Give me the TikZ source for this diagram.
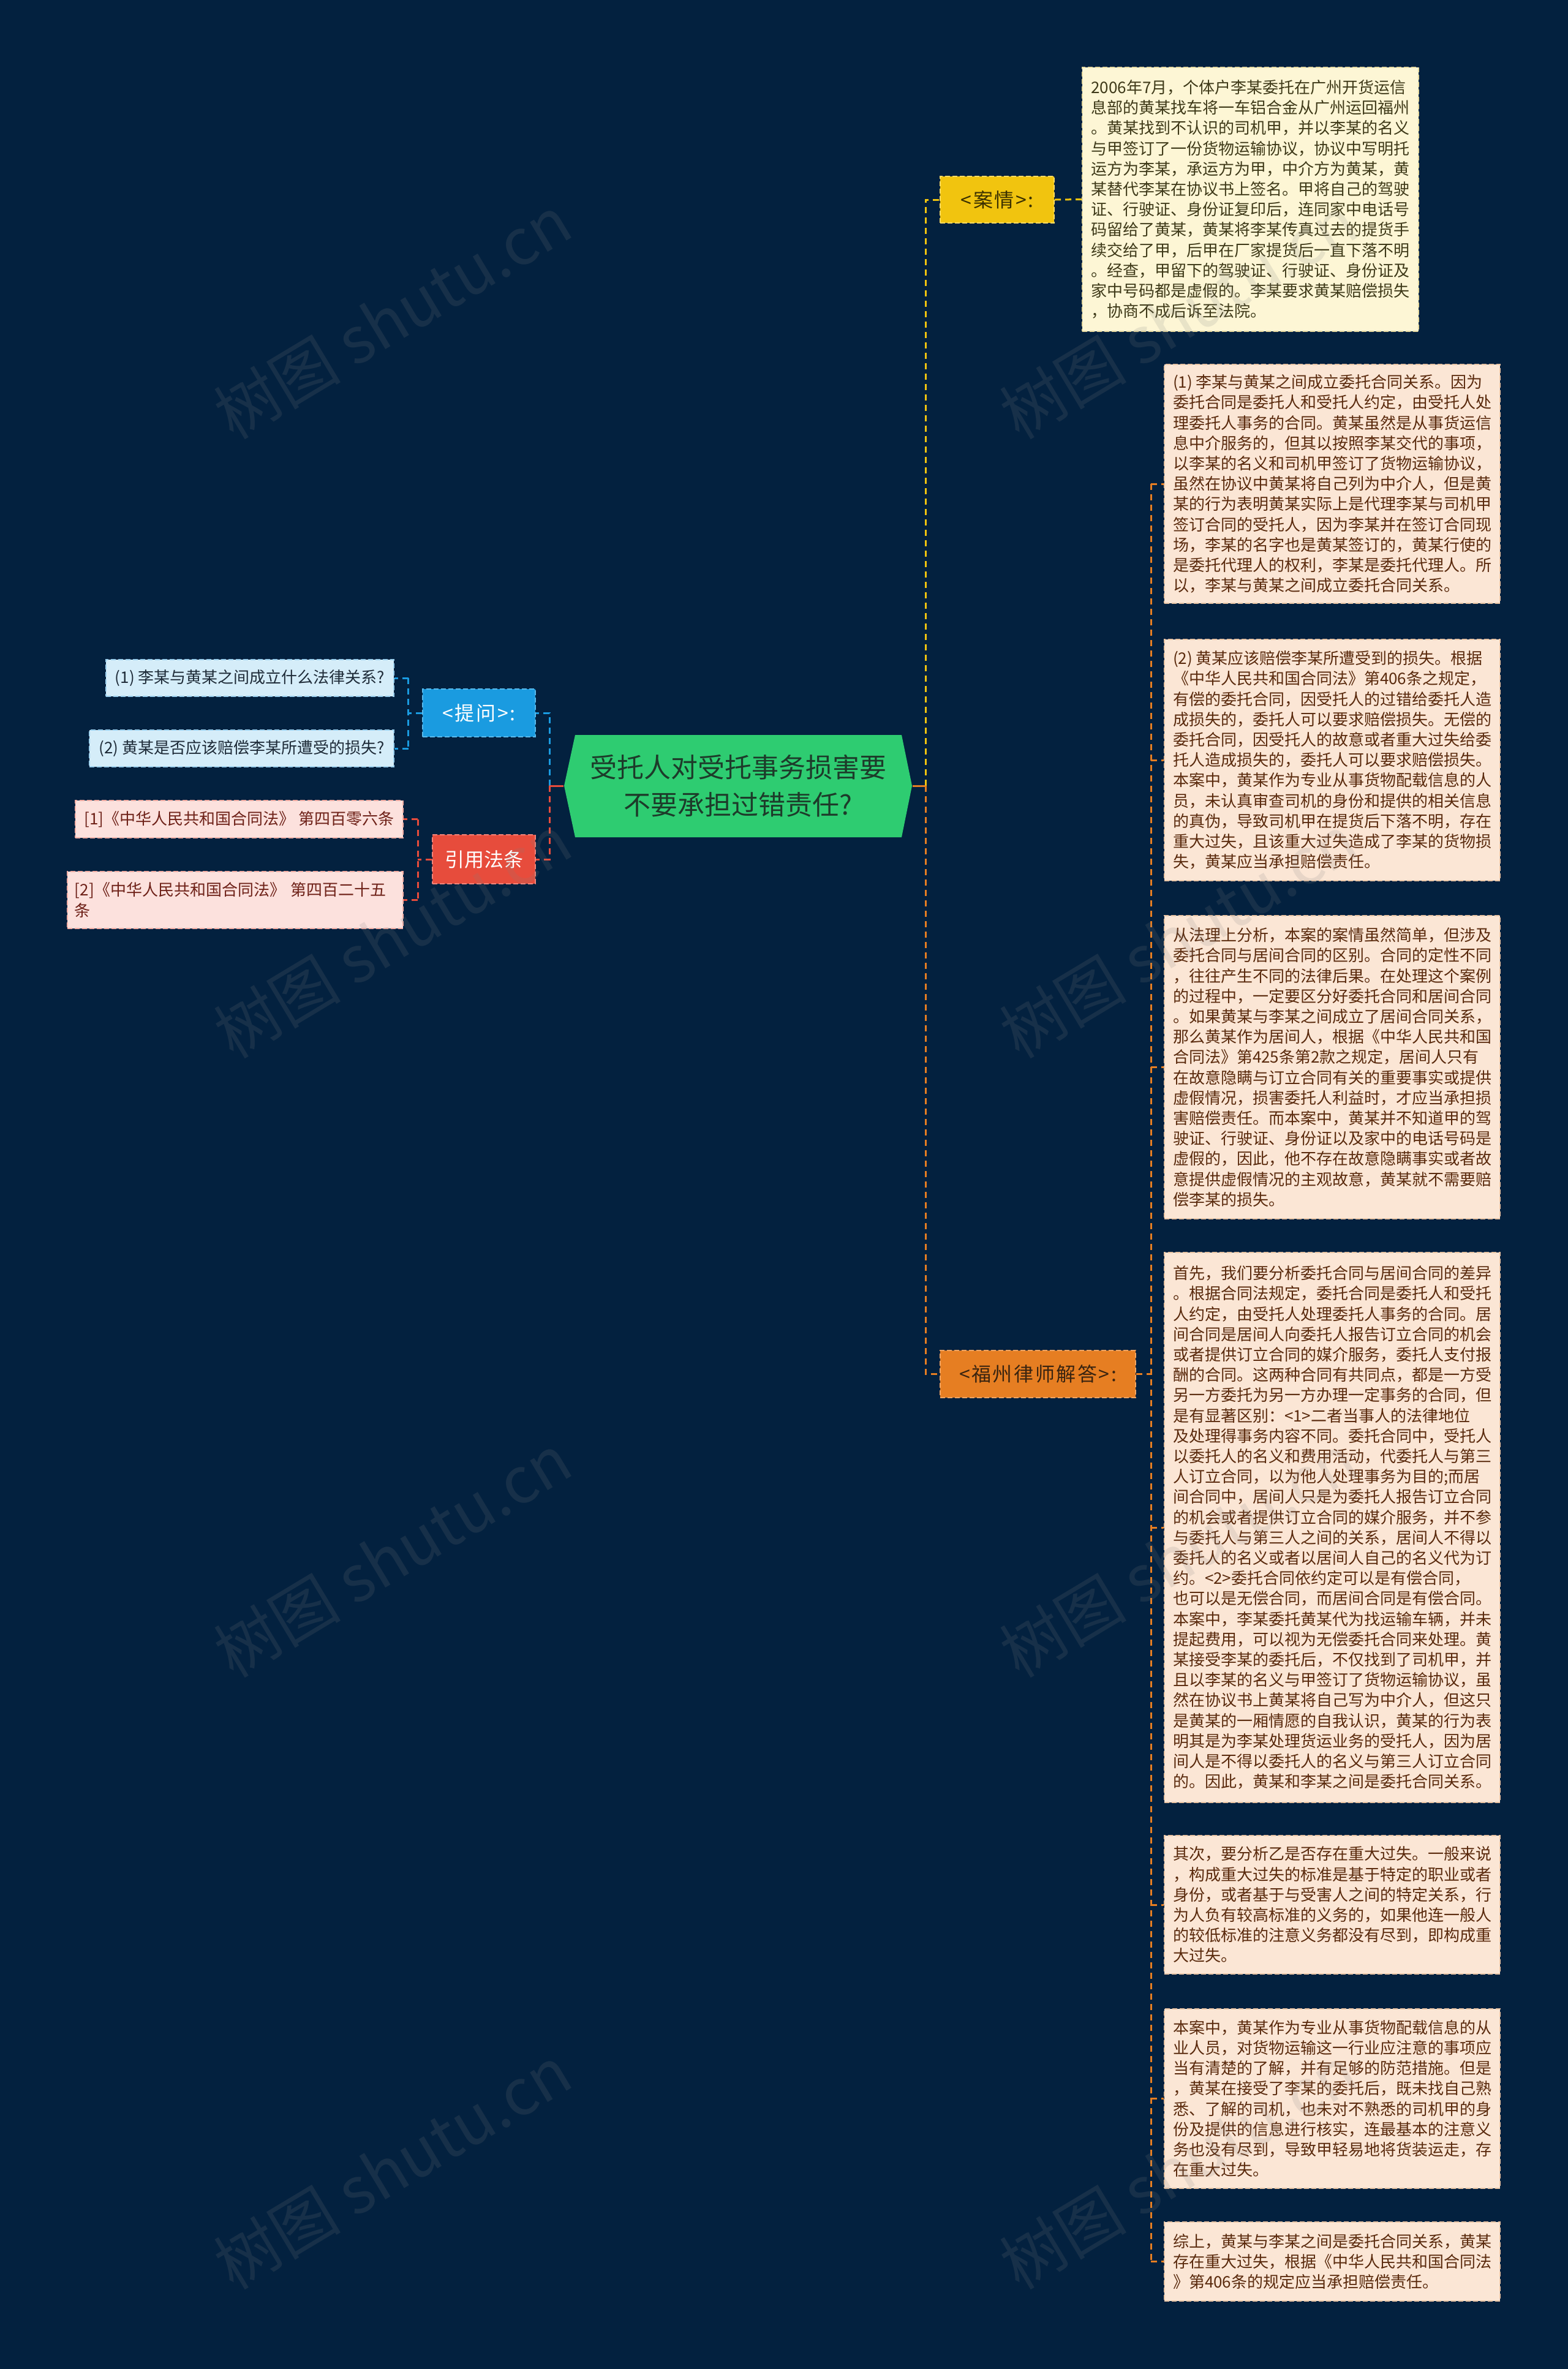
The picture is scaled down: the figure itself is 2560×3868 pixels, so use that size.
\documentclass[tikz,border=0pt]{standalone}
\usepackage{fontspec}
\setmainfont{Noto Sans CJK SC}
\usetikzlibrary{backgrounds}
\definecolor{bgc}{HTML}{03213F}
\definecolor{rootfill}{HTML}{2ECC71}
\definecolor{roottext}{HTML}{1D3B2A}
\definecolor{bluec}{HTML}{1A9BE0}
\definecolor{blueline}{HTML}{58B9EC}
\definecolor{redc}{HTML}{E74C3C}
\definecolor{redline}{HTML}{F1847A}
\definecolor{yelc}{HTML}{F1C40F}
\definecolor{yelline}{HTML}{F7DA62}
\definecolor{yeltext}{HTML}{3A3000}
\definecolor{orac}{HTML}{E67E22}
\definecolor{oraline}{HTML}{F0A461}
\definecolor{oratext}{HTML}{3A2410}
\definecolor{qfill}{HTML}{D5EDF9}
\definecolor{qline}{HTML}{9CD0EE}
\definecolor{qtext}{HTML}{1E2B38}
\definecolor{lawfill}{HTML}{FCE1DD}
\definecolor{lawline}{HTML}{F2ADA4}
\definecolor{lawtext}{HTML}{6E2118}
\definecolor{casefill}{HTML}{FDF6D5}
\definecolor{caseline}{HTML}{E6D9A0}
\definecolor{casetext}{HTML}{3E3918}
\definecolor{ansfill}{HTML}{FBE6D5}
\definecolor{ansline}{HTML}{E8C3A3}
\definecolor{anstext}{HTML}{5A2A0D}
\tikzset{
  conn/.style={line width=0.75pt, dash pattern=on 2.5pt off 1.75pt},
  solidconn/.style={line width=0.75pt},
  boxbase/.style={draw, line width=0.5pt, dash pattern=on 2pt off 1pt, inner sep=0pt},
  smallfont/.style={font=\fontsize{6.5pt}{8.3pt}\selectfont},
  midfont/.style={font=\fontsize{8pt}{10pt}\selectfont},
  spacedfont/.style={font=\fontsize{8pt}{10pt}\selectfont\addfontfeatures{LetterSpace=8}},
  qbox/.style={boxbase, smallfont, fill=qfill, draw=qline, text=qtext, minimum height=15pt},
  lawbox/.style={boxbase, smallfont, fill=lawfill, draw=lawline, text=lawtext},
  casebox/.style={boxbase, smallfont, fill=casefill, draw=caseline, text=casetext, align=left},
  ansbox/.style={boxbase, smallfont, fill=ansfill, draw=ansline, text=anstext, align=left, minimum width=137pt},
  lvone/.style={boxbase, midfont},
  lvspaced/.style={boxbase, spacedfont},
  wm/.style={font=\fontsize{26pt}{30pt}\selectfont, text=gray, opacity=0.16, rotate=31, inner sep=0pt},
}
\begin{document}
\begin{tikzpicture}[x=0.25pt, y=-0.25pt]
\useasboundingbox (0,0) rectangle (2560,3868);
\begin{scope}[on background layer]
  \fill[bgc] (0,0) rectangle (2560,3868);
\end{scope}

% central hexagon
\fill[rootfill] (939,1200) -- (1472,1200) -- (1489,1283) -- (1472,1367) -- (939,1367) -- (921,1283) -- cycle;
\node[inner sep=0pt, minimum width=142pt, minimum height=41.75pt, align=center, text=roottext,
      font=\fontsize{11pt}{15.25pt}\selectfont] (root) at (1205,1283)
  {受托人对受托事务损害要\\不要承担过错责任?};

% left branch
\node[lvspaced, fill=bluec, draw=blueline, text=white, minimum width=46pt, minimum height=19.5pt] (tiwen) at (782,1164) {<提问>:};
\node[lvone, fill=redc, draw=redline, text=white, minimum width=42pt, minimum height=20pt] (yinyong) at (790,1403) {引用法条};
\node[qbox, minimum width=117.5pt] (q1) at (408,1107) {(1) 李某与黄某之间成立什么法律关系?};
\node[qbox, minimum width=124.25pt] (q2) at (394.5,1222) {(2) 黄某是否应该赔偿李某所遭受的损失?};
\node[lawbox, minimum width=133.75pt, minimum height=15.25pt] (l1) at (390.5,1337.5) {[1]《中华人民共和国合同法》 第四百零六条};
\node[lawbox, text width=131pt, inner xsep=3pt, minimum height=23.25pt, align=left] (l2) at (384,1469.5) {[2]《中华人民共和国合同法》 第四百二十五\\条};

% right branch
\node[lvspaced, fill=yelc, draw=yelline, text=yeltext, minimum width=46.5pt, minimum height=19pt] (anqing) at (1628,326) {<案情>:};
\node[lvspaced, fill=orac, draw=oraline, text=oratext, minimum width=79.75pt, minimum height=19.25pt] (fuzhou) at (1694.5,2243.5) {<福州律师解答>:};

\node[casebox, minimum width=137.25pt, minimum height=107.75pt] (case) at (2041.5,325.5) {2006年7月，个体户李某委托在广州开货运信\\息部的黄某找车将一车铝合金从广州运回福州\\。黄某找到不认识的司机甲，并以李某的名义\\与甲签订了一份货物运输协议，协议中写明托\\运方为李某，承运方为甲，中介方为黄某，黄\\某替代李某在协议书上签名。甲将自己的驾驶\\证、行驶证、身份证复印后，连同家中电话号\\码留给了黄某，黄某将李某传真过去的提货手\\续交给了甲，后甲在厂家提货后一直下落不明\\。经查，甲留下的驾驶证、行驶证、身份证及\\家中号码都是虚假的。李某要求黄某赔偿损失\\，协商不成后诉至法院。};

\node[ansbox, minimum height=97.5pt] (b1) at (2175,790) {(1) 李某与黄某之间成立委托合同关系。因为\\委托合同是委托人和受托人约定，由受托人处\\理委托人事务的合同。黄某虽然是从事货运信\\息中介服务的，但其以按照李某交代的事项，\\以李某的名义和司机甲签订了货物运输协议，\\虽然在协议中黄某将自己列为中介人，但是黄\\某的行为表明黄某实际上是代理李某与司机甲\\签订合同的受托人，因为李某并在签订合同现\\场，李某的名字也是黄某签订的，黄某行使的\\是委托代理人的权利，李某是委托代理人。所\\以，李某与黄某之间成立委托合同关系。};

\node[ansbox, minimum height=98.5pt] (b2) at (2175,1241) {(2) 黄某应该赔偿李某所遭受到的损失。根据\\《中华人民共和国合同法》第406条之规定，\\有偿的委托合同，因受托人的过错给委托人造\\成损失的，委托人可以要求赔偿损失。无偿的\\委托合同，因受托人的故意或者重大过失给委\\托人造成损失的，委托人可以要求赔偿损失。\\本案中，黄某作为专业从事货物配载信息的人\\员，未认真审查司机的身份和提供的相关信息\\的真伪，导致司机甲在提货后下落不明，存在\\重大过失，且该重大过失造成了李某的货物损\\失，黄某应当承担赔偿责任。};

\node[ansbox, minimum height=123.75pt] (b3) at (2175,1742.5) {从法理上分析，本案的案情虽然简单，但涉及\\委托合同与居间合同的区别。合同的定性不同\\，往往产生不同的法律后果。在处理这个案例\\的过程中，一定要区分好委托合同和居间合同\\。如果黄某与李某之间成立了居间合同关系，\\那么黄某作为居间人，根据《中华人民共和国\\合同法》第425条第2款之规定，居间人只有\\在故意隐瞒与订立合同有关的重要事实或提供\\虚假情况，损害委托人利益时，才应当承担损\\害赔偿责任。而本案中，黄某并不知道甲的驾\\驶证、行驶证、身份证以及家中的电话号码是\\虚假的，因此，他不存在故意隐瞒事实或者故\\意提供虚假情况的主观故意，黄某就不需要赔\\偿李某的损失。};

\node[ansbox, minimum height=224.5pt] (b4) at (2175,2494) {首先，我们要分析委托合同与居间合同的差异\\。根据合同法规定，委托合同是委托人和受托\\人约定，由受托人处理委托人事务的合同。居\\间合同是居间人向委托人报告订立合同的机会\\或者提供订立合同的媒介服务，委托人支付报\\酬的合同。这两种合同有共同点，都是一方受\\另一方委托为另一方办理一定事务的合同，但\\是有显著区别：<1>二者当事人的法律地位\\及处理得事务内容不同。委托合同中，受托人\\以委托人的名义和费用活动，代委托人与第三\\人订立合同，以为他人处理事务为目的;而居\\间合同中，居间人只是为委托人报告订立合同\\的机会或者提供订立合同的媒介服务，并不参\\与委托人与第三人之间的关系，居间人不得以\\委托人的名义或者以居间人自己的名义代为订\\约。<2>委托合同依约定可以是有偿合同，\\也可以是无偿合同，而居间合同是有偿合同。\\本案中，李某委托黄某代为找运输车辆，并未\\提起费用，可以视为无偿委托合同来处理。黄\\某接受李某的委托后，不仅找到了司机甲，并\\且以李某的名义与甲签订了货物运输协议，虽\\然在协议书上黄某将自己写为中介人，但这只\\是黄某的一厢情愿的自我认识，黄某的行为表\\明其是为李某处理货运业务的受托人，因为居\\间人是不得以委托人的名义与第三人订立合同\\的。因此，黄某和李某之间是委托合同关系。};

\node[ansbox, minimum height=56.5pt] (b5) at (2175,3110) {其次，要分析乙是否存在重大过失。一般来说\\，构成重大过失的标准是基于特定的职业或者\\身份，或者基于与受害人之间的特定关系，行\\为人负有较高标准的义务的，如果他连一般人\\的较低标准的注意义务都没有尽到，即构成重\\大过失。};

\node[ansbox, minimum height=73.25pt] (b6) at (2175,3426.5) {本案中，黄某作为专业从事货物配载信息的从\\业人员，对货物运输这一行业应注意的事项应\\当有清楚的了解，并有足够的防范措施。但是\\，黄某在接受了李某的委托后，既未找自己熟\\悉、了解的司机，也未对不熟悉的司机甲的身\\份及提供的信息进行核实，连最基本的注意义\\务也没有尽到，导致甲轻易地将货装运走，存\\在重大过失。};

\node[ansbox, minimum height=32.25pt] (b7) at (2175,3692.5) {综上，黄某与李某之间是委托合同关系，黄某\\存在重大过失，根据《中华人民共和国合同法\\》第406条的规定应当承担赔偿责任。};

% junction points
\coordinate (jl) at (897,1283);
\coordinate (jr) at (1511,1283);
\coordinate (jq) at (666.5,1164);
\coordinate (jlaw) at (682,1403);
\coordinate (ja) at (1879,2243.5);

\begin{scope}[on background layer]
  % left of root
  \draw[conn, bluec] (jl) |- (tiwen.east);
  \draw[conn, redc] (jl) |- (yinyong.east);
  \draw[solidconn, redc] (root.west) -- (jl);
  \draw[conn, bluec] (tiwen.west) -- (jq);
  \draw[conn, bluec] (q1.east -| jq) -- (q2.east -| jq);
  \draw[conn, bluec] (q1.east -| jq) -- (q1.east);
  \draw[conn, bluec] (q2.east -| jq) -- (q2.east);
  \draw[conn, redc] (yinyong.west) -- (jlaw);
  \draw[conn, redc] (l1.east -| jlaw) -- (l2.east -| jlaw);
  \draw[conn, redc] (l1.east -| jlaw) -- (l1.east);
  \draw[conn, redc] (l2.east -| jlaw) -- (l2.east);
  % right of root
  \draw[conn, yelc] (jr) |- (anqing.west);
  \draw[conn, orac] (jr) |- (fuzhou.west);
  \draw[solidconn, orac] (root.east) -- (jr);
  \draw[conn, yelc] (anqing.east) -- (case.west);
  \draw[conn, orac] (fuzhou.east) -- (ja);
  \draw[conn, orac] (b1.west -| ja) -- (b7.west -| ja);
  \foreach \b in {b1,b2,b3,b4,b5,b6,b7} {
    \draw[conn, orac] (\b.west -| ja) -- (\b.west);
  }
\end{scope}

% watermarks
\foreach \wx in {641,1924} {
  \foreach \wy in {518,1529,2540,3539} {
    \node[wm, name=wm-\wx-\wy] at (\wx,\wy) {树图 shutu.cn};
  }
}
\end{tikzpicture}
\end{document}
